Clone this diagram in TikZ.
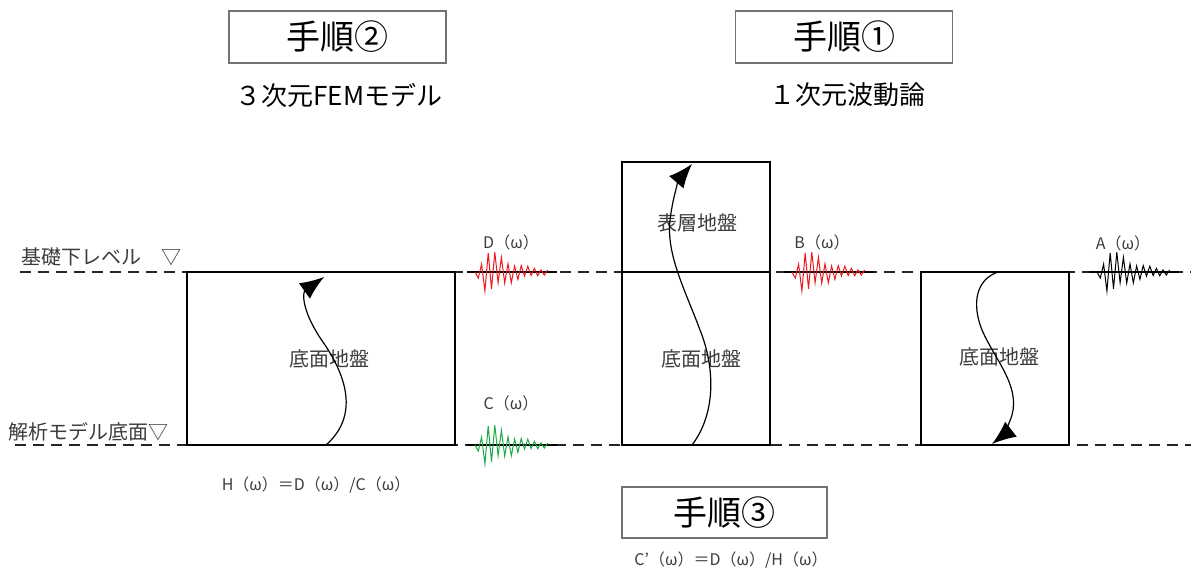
\documentclass[tikz,border=0pt]{standalone}
\usepackage{fontspec}
\setmainfont{Noto Sans CJK JP}
\usepackage{xcolor}
\usepackage{tikz}
\usetikzlibrary{arrows.meta}
\definecolor{wred}{RGB}{235,25,30}
\definecolor{wgreen}{RGB}{30,170,70}
\definecolor{txt}{RGB}{60,60,60}

\begin{document}
\begin{tikzpicture}[x=1pt,y=-1pt,
  stepbox/.style={draw=black!55,line width=1.3pt,minimum width=217pt,minimum height=52pt,inner sep=0pt,font=\fontsize{34}{38}\selectfont},
  big/.style={font=\fontsize{26}{30}\selectfont},
  mid/.style={text=txt,font=\fontsize{20}{24}\selectfont},
  small/.style={text=txt,font=\fontsize{16}{20}\selectfont},
  level/.style={black!85,line width=1.2pt,dash pattern=on 11pt off 7pt},
  soil/.style={line width=1.2pt},
  flow/.style={line width=1.2pt,-{Latex[length=24pt,width=19pt]}}]
\useasboundingbox (0,0) rectangle (1191,575);
\node[stepbox] (p2) at (337.5,37) {手順②}; \node[stepbox] (p1) at (844,37) {手順①};
\node[stepbox,minimum width=205pt,minimum height=51pt] (p3) at (724.5,512.5) {手順③};
\node[big] (t2) at (339,95) {３次元FEMモデル}; \node[big] (t1) at (847,95) {１次元波動論};
\draw[level] (20,272) -- (1191,272); \draw[level] (15,445) -- (1191,445);
\node[mid,anchor=west,inner sep=0pt] (lv1) at (21,257) {基礎下レベル　▽};
\node[mid,anchor=west,inner sep=0pt] (lv2) at (8,432) {解析モデル底面▽};
\draw[soil] (187,272) rectangle (455,445); \draw[soil] (622,162) rectangle (770,445); \draw[soil] (622,272) -- (770,272); \draw[soil] (921,272) rectangle (1069,445);
\node[mid] (g1) at (329,359) {底面地盤}; \node[mid] (g2) at (697,223) {表層地盤};
\node[mid] (g3) at (701,359) {底面地盤}; \node[mid] (g4) at (999,357) {底面地盤};
\coordinate (a1) at (326,445); \coordinate (b1) at (324,277);
\draw[flow] (a1) .. controls (360,415) and (345,375) .. (325,345) .. controls (300,310) and (303,292) .. (b1);
\coordinate (a2) at (692,445); \coordinate (b2) at (692,164);
\draw[flow] (a2) .. controls (715,415) and (716,370) .. (700,330) .. controls (686,292) and (666,255) .. (670,220) .. controls (673,195) and (680,178) .. (b2);
\coordinate (a3) at (998,272); \coordinate (b3) at (992,444);
\draw[flow] (a3) .. controls (975,280) and (972,305) .. (982,330) .. controls (995,360) and (1020,385) .. (1012,415) .. controls (1008,428) and (1001,437) .. (b3);
\foreach \px/\py/\c in {475/272/wred, 475/445/wgreen, 792/272/wred, 1097/272/black}
  {\draw[line width=1.2pt] (\px-8,\py) -- (\px+82,\py);
   \draw[\c,line width=1pt] plot[domain=0:22,samples=23] ({\px+\x*3.3},{\py-26*min(\x/4,1)*exp(-max(\x-4,0)/8)*(0.8+0.2*sin(\x*140))*cos(180*\x)});}
\node[small] (d) at (511,242) {D（ω）}; \node[small] (c) at (511,403) {C（ω）};
\node[small] (b) at (822,242) {B（ω）}; \node[small] (a) at (1123,243) {A（ω）};
\node[small] (h) at (316,485) {H（ω）＝D（ω）/C（ω）};
\node[small] (cc) at (731,560) {C’（ω）＝D（ω）/H（ω）};
\end{tikzpicture}
\end{document}
